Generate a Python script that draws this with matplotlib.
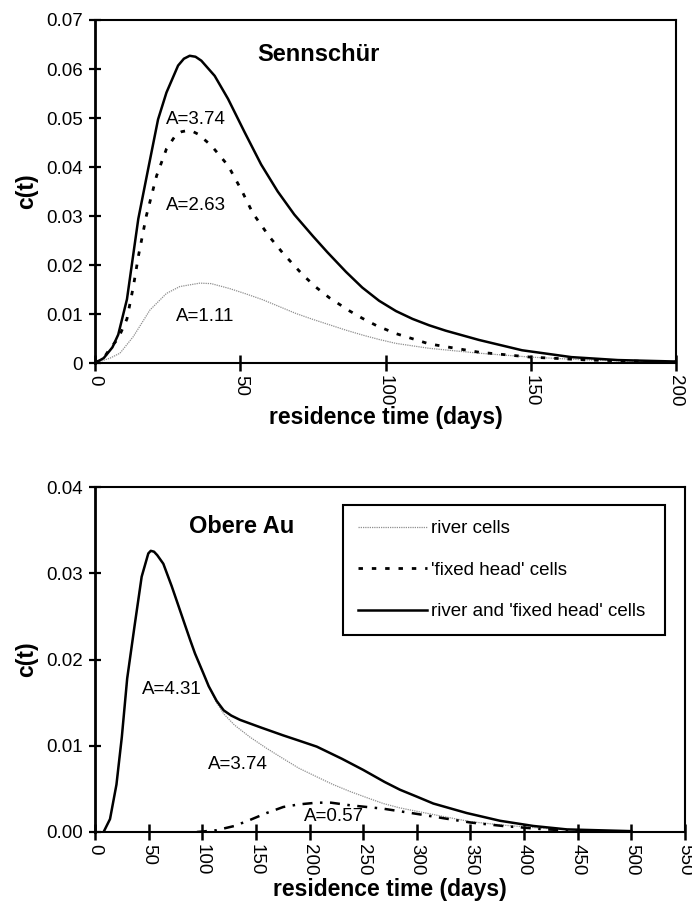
import matplotlib
matplotlib.use("Agg")
import matplotlib.pyplot as plt
from matplotlib.lines import Line2D

plt.rcParams['font.family'] = ['Liberation Sans', 'DejaVu Sans']

# ---------------- Sennschür (top) ----------------
top_t_comb = [0, 3, 6, 8, 11, 14.9, 18.3, 21.7, 24.6, 28.6, 30.6, 32.6, 34.6, 36.6, 41.2, 45.8,
              51.5, 57.2, 62.9, 68.6, 75, 80, 86.4, 92, 97.8, 103.6, 109.3, 115, 120.7, 132.2,
              147, 164, 180, 200]
top_c_comb = [0, 0.001, 0.0032, 0.0058, 0.013, 0.0294, 0.0396, 0.0497, 0.0552, 0.0607,
              0.0621, 0.0627, 0.0625, 0.0617, 0.0586, 0.0539, 0.0471, 0.0405, 0.035, 0.0303,
              0.0259, 0.0226, 0.0186, 0.0154, 0.0127, 0.0106, 0.009, 0.0077, 0.0066, 0.0047,
              0.0026, 0.0012, 0.0006, 0.0003]

top_t_fixed = [0, 3, 5.2, 8, 11, 13.2, 15, 17.7, 21.2, 24.6, 28, 29.8, 31.5, 33.5, 35.5, 40,
               45.8, 50.5, 54.3, 60, 64.7, 71.5, 76, 80.7, 87.7, 92.1, 97, 103.6, 115, 132.2,
               150, 170, 200]
top_c_fixed = [0, 0.001, 0.003, 0.005, 0.009, 0.0156, 0.022, 0.0301, 0.0382, 0.0437, 0.0467,
               0.0472, 0.0474, 0.0473, 0.0467, 0.0444, 0.0403, 0.0352, 0.0306, 0.0258, 0.0224,
               0.018, 0.0155, 0.0133, 0.0106, 0.0091, 0.0076, 0.006, 0.0039, 0.0022, 0.0012,
               0.0006, 0.0002]

top_t_river = [0, 1.7, 5.2, 8.6, 13.2, 18.9, 24.6, 29.2, 36.1, 40, 46.3, 52, 57.8, 63.5, 69.2,
               75, 80.7, 86.4, 92.1, 97.8, 103.6, 115, 132.2, 150, 170, 200]
top_c_river = [0, 0.0003, 0.001, 0.002, 0.0054, 0.0108, 0.0142, 0.0156, 0.0163, 0.0162, 0.0152,
               0.0141, 0.0129, 0.0115, 0.0101, 0.0089, 0.0078, 0.0067, 0.0057, 0.0048, 0.004,
               0.003, 0.002, 0.0012, 0.0006, 0.0002]

# ---------------- Obere Au (bottom) ----------------
bot_t_comb = [8, 14, 20, 25, 30, 37, 43.5, 49.7, 52, 55, 58, 63.7, 71.5, 76.2, 83.9, 88.6, 93.2,
              101, 106, 113.4, 120, 127, 135.2, 155, 175.5, 190, 206.7, 230, 250, 270,
              284.3, 300, 315.4, 346.5, 377.6, 408.6, 440, 470, 500]
bot_c_comb = [0, 0.0015, 0.0055, 0.011, 0.0178, 0.024, 0.0296, 0.0323, 0.0326, 0.0325, 0.0321,
              0.0311, 0.0285, 0.0268, 0.024, 0.0223, 0.0207, 0.0184, 0.0169, 0.0152, 0.0141,
              0.0135, 0.013, 0.0121, 0.0112, 0.0106, 0.0099, 0.0085, 0.0072, 0.0058, 0.0049,
              0.0041, 0.0033, 0.0022, 0.0013, 0.0007, 0.0003, 0.0002, 0.0001]

bot_t_river = [8, 14, 20, 25, 30, 37, 43.5, 49.7, 52, 55, 58, 63.7, 71.5, 76.2, 83.9, 88.6, 93.2,
               101, 106, 113.4, 120, 130, 144.5, 160, 175.5, 190, 206.7, 222, 237.7, 253,
               268.8, 284, 300, 324.7, 350, 380, 420, 460, 500]
bot_c_river = [0, 0.0015, 0.0055, 0.011, 0.0178, 0.024, 0.0296, 0.0323, 0.0326, 0.0325, 0.0321,
               0.0311, 0.0285, 0.0268, 0.024, 0.0223, 0.0207, 0.0184, 0.0169, 0.015, 0.0137,
               0.0124, 0.011, 0.0097, 0.0085, 0.0074, 0.0064, 0.0055, 0.0047, 0.004, 0.0033,
               0.0028, 0.0024, 0.0018, 0.0012, 0.0008, 0.0004, 0.0002, 0.0001]

bot_t_fixed = [95, 113, 130, 144.5, 160, 175.5, 190, 206.7, 220, 237.7, 268.8, 300, 324.7,
               350, 380, 420, 460, 500]
bot_c_fixed = [0, 0.0002, 0.0007, 0.0014, 0.0022, 0.0029, 0.0032, 0.0034, 0.0034, 0.0031,
               0.0027, 0.0021, 0.0016, 0.0011, 0.0007, 0.0003, 0.0001, 0]

top_xticks = [0, 50, 100, 150, 200]
top_yticks = [0, 0.01, 0.02, 0.03, 0.04, 0.05, 0.06, 0.07]
top_ylabels = ['0', '0.01', '0.02', '0.03', '0.04', '0.05', '0.06', '0.07']
bot_xticks = [0, 50, 100, 150, 200, 250, 300, 350, 400, 450, 500, 550]
bot_yticks = [0.0, 0.01, 0.02, 0.03, 0.04]
bot_ylabels = ['0.00', '0.01', '0.02', '0.03', '0.04']

legend_labels = ['river cells', "'fixed head' cells", "river and 'fixed head' cells"]

RIVER_STYLE = dict(color='#8f8f8f', lw=0.9, ls=(0, (1, 0.8)))
FIXED_STYLE = dict(color='black', lw=2.0, ls=(0, (1.6, 3.2)))
FIXED_STYLE_B = dict(color='black', lw=1.8, ls=(0, (4, 3, 1, 3)))
COMB_STYLE = dict(color='black', lw=1.8, ls='-')

fig = plt.figure(figsize=(6.92, 9.11), dpi=100)
ax1 = fig.add_axes([95/692, 1-363/911, (676-95)/692, (363-20)/911])
ax2 = fig.add_axes([95/692, 1-832/911, (685-95)/692, (832-487)/911])

TICKFS = 13.5
LABFS = 16.5
TITLEFS = 17

def style_axes(ax, xticks, yticks, ylabels, xmax, ymax, xlabelpad):
    ax.set_xlim(0, xmax)
    ax.set_ylim(0, ymax)
    ax.set_xticks(xticks)
    ax.set_xticklabels([str(v) for v in xticks], rotation=-90, fontsize=TICKFS)
    ax.set_yticks(yticks)
    ax.set_yticklabels(ylabels, fontsize=TICKFS)
    ax.tick_params(axis='x', direction='inout', length=11, width=1.8, pad=3)
    ax.tick_params(axis='y', direction='inout', length=9, width=1.6, pad=4)
    for s in ax.spines.values():
        s.set_linewidth(1.5)
    ax.spines['left'].set_linewidth(2.0)
    ax.set_ylabel('c(t)', fontsize=LABFS, fontweight='bold', labelpad=6)
    ax.set_xlabel('residence time (days)', fontsize=LABFS, fontweight='bold',
                  labelpad=xlabelpad)

# top
ax1.plot(top_t_river, top_c_river, **RIVER_STYLE)
ax1.plot(top_t_fixed, top_c_fixed, **FIXED_STYLE)
ax1.plot(top_t_comb, top_c_comb, **COMB_STYLE)
style_axes(ax1, top_xticks, top_yticks, top_ylabels, 200, 0.07, 0)
ax1.text(77, 0.0629, 'Sennschür', fontsize=TITLEFS, fontweight='bold', ha='center', va='center')
ax1.text(34.7, 0.0497, 'A=3.74', fontsize=TICKFS, ha='center', va='center')
ax1.text(34.7, 0.0322, 'A=2.63', fontsize=TICKFS, ha='center', va='center')
ax1.text(37.8, 0.0094, 'A=1.11', fontsize=TICKFS, ha='center', va='center')

# bottom
ax2.plot(bot_t_river, bot_c_river, **RIVER_STYLE)
ax2.plot(bot_t_fixed, bot_c_fixed, **FIXED_STYLE_B)
ax2.plot(bot_t_comb, bot_c_comb, **COMB_STYLE)
style_axes(ax2, bot_xticks, bot_yticks, bot_ylabels, 550, 0.04, 2)
ax2.text(137, 0.0354, 'Obere Au', fontsize=TITLEFS, fontweight='bold', ha='center', va='center')
ax2.text(71.8, 0.0165, 'A=4.31', fontsize=TICKFS, ha='center', va='center')
ax2.text(132.8, 0.0078, 'A=3.74', fontsize=TICKFS, ha='center', va='center')
ax2.text(222.9, 0.0018, 'A=0.57', fontsize=TICKFS, ha='center', va='center')

handles = [Line2D([], [], **RIVER_STYLE), Line2D([], [], **FIXED_STYLE),
           Line2D([], [], **COMB_STYLE)]
leg = ax2.legend(handles, legend_labels, loc='upper left',
                 bbox_to_anchor=(0.42, 0.577, 0.546, 0.371), mode='expand',
                 borderaxespad=0, fancybox=False, framealpha=1, edgecolor='black',
                 fontsize=TICKFS, handlelength=3.7, handletextpad=0.2,
                 labelspacing=1.3, borderpad=0.8)
leg.get_frame().set_linewidth(1.5)

fig.savefig('out.png', dpi=100)
